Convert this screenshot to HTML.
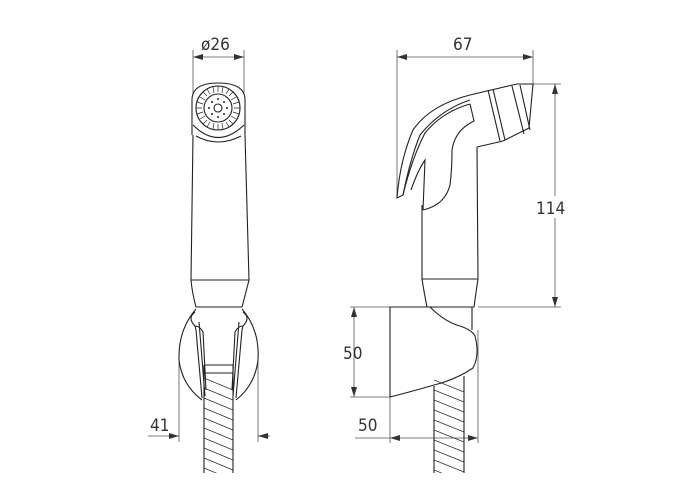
<!DOCTYPE html>
<html><head><meta charset="utf-8"><style>
html,body{margin:0;padding:0;background:#fff;}
svg{display:block;}
text{font-family:"Liberation Sans Narrow","DejaVu Sans Condensed","Liberation Sans",sans-serif;font-size:17px;fill:#333;}
</style></head><body>
<svg width="700" height="500" viewBox="0 0 700 500" xmlns="http://www.w3.org/2000/svg">
<defs>
<marker id="a" markerWidth="10" markerHeight="6" refX="10" refY="3" orient="auto-start-reverse" markerUnits="userSpaceOnUse"><path d="M0,0 L10,3 L0,6 z" fill="#333"/></marker>
<clipPath id="h1"><rect x="204" y="373" width="29" height="100"/></clipPath>
<clipPath id="h2"><rect x="434" y="370" width="30" height="103"/></clipPath>
</defs>
<g stroke="#555" stroke-width="0.8" fill="none">
<line x1="193" y1="50" x2="193" y2="95"/><line x1="244" y1="50" x2="244" y2="95"/>
<line x1="193" y1="57" x2="244" y2="57" marker-start="url(#a)" marker-end="url(#a)"/>
<line x1="179" y1="355" x2="179" y2="442"/><line x1="258" y1="355" x2="258" y2="442"/>
<line x1="148" y1="436" x2="179" y2="436"/>
<line x1="168" y1="436" x2="179" y2="436" marker-end="url(#a)"/>
<line x1="258" y1="436" x2="270" y2="436"/>
<line x1="268" y1="436" x2="258" y2="436" marker-end="url(#a)"/>
<line x1="397" y1="50" x2="397" y2="198"/><line x1="533" y1="50" x2="533" y2="86"/>
<line x1="397" y1="57" x2="533" y2="57" marker-start="url(#a)" marker-end="url(#a)"/>
<line x1="533" y1="84" x2="561" y2="84"/><line x1="478" y1="307" x2="561" y2="307"/>
<line x1="555" y1="84" x2="555" y2="307" marker-start="url(#a)" marker-end="url(#a)"/>
<line x1="350" y1="307" x2="390" y2="307"/><line x1="350" y1="397" x2="390" y2="397"/>
<line x1="354" y1="307" x2="354" y2="397" marker-start="url(#a)" marker-end="url(#a)"/>
<line x1="390" y1="397" x2="390" y2="443"/><line x1="478" y1="330" x2="478" y2="443"/>
<line x1="355" y1="438" x2="390" y2="438"/>
<line x1="390" y1="438" x2="478" y2="438" marker-start="url(#a)" marker-end="url(#a)"/>
</g>
<text x="201" y="50">ø26</text>
<text x="150" y="431">41</text>
<text x="453" y="50">67</text>
<rect x="536" y="196" width="36" height="22" fill="#fff"/>
<text x="536" y="214">114</text>
<text x="343" y="359">50</text>
<text x="358" y="431">50</text>

<g stroke="#222" stroke-width="1.1" fill="none">
<path d="M192,135 L192,100 Q192,83 218,83 Q245,83 245,100 L245,135"/>
<path d="M193,125 Q218,150 244,125"/>
<path d="M196,136 Q218,148 241,136"/>
<circle cx="218" cy="108" r="22"/>
<circle cx="218" cy="108" r="14"/>
<circle cx="218" cy="108" r="4"/>
<g stroke-width="0.7">
<path d="M218,86v6M229,89l-3,5M236,97l-5,3M240,108h-6M236,119l-5,-3M229,127l-3,-5M218,130v-6M207,127l3,-5M200,119l5,-3M196,108h6M200,97l5,3M207,89l3,5"/>
<path d="M223,87l-1,6M233,92l-4,4M239,102l-6,2M239,114l-6,-2M233,124l-4,-4M223,129l-1,-6M213,129l1,-6M203,124l4,-4M197,114l6,-2M197,102l6,2M203,92l4,4M213,87l1,6"/>
</g>
<g fill="#222" stroke="none">
<circle cx="218" cy="99" r="1"/><circle cx="218" cy="117" r="1"/><circle cx="209" cy="108" r="1"/><circle cx="227" cy="108" r="1"/>
<circle cx="212" cy="102" r="1"/><circle cx="224" cy="102" r="1"/><circle cx="212" cy="114" r="1"/><circle cx="224" cy="114" r="1"/>
</g>
<path d="M193,135 L191,280 L249,280 L245,135"/>
<path d="M191,280 Q192,292 196,307 L242,307 Q246,292 249,280"/>
<path d="M196,309 Q178,330 179,360 Q182,385 202,400"/>
<path d="M242,309 Q260,330 258,360 Q255,385 236,400"/>
<path d="M195,312 Q187,318 195,326 L196,330 L202,398 M199,322 L205,396 M195,326 Q200,326 203,332 L206,390"/>
<path d="M243,312 Q251,318 243,326 L242,330 L236,398 M239,322 L233,396 M243,326 Q238,326 235,332 L232,390"/>
<path d="M204,365 L204,473 M233,365 L233,473"/>
<line x1="204" y1="365" x2="233" y2="365"/><line x1="204" y1="373" x2="233" y2="373"/>
<g clip-path="url(#h1)" stroke-width="0.7">
<path d="M204,378 l29,12 M204,388 l29,12 M204,398 l29,12 M204,408 l29,12 M204,418 l29,12 M204,428 l29,12 M204,438 l29,12 M204,448 l29,12 M204,458 l29,12 M204,468 l29,12"/>
</g>

<path d="M470,95 L517,84 L533,84 L529,128 L503,141 L477,147"/>
<path d="M488,90 L500,141 M493,89 L505,140 M512,86 L524,134 M520,85 L530,130"/>
<path d="M470,95 Q430,105 413,130 Q400,160 397,198 L403,195 Q410,160 420,135 Q440,110 470,100"/>
<path d="M403,195 Q412,158 425,133 Q442,112 470,104"/>
<path d="M470,104 L474,121 Q455,130 452,150 Q452,170 450,185 Q445,205 423,210"/>
<path d="M411,190 Q418,170 425,160 L423,210"/>
<path d="M477,147 L478,279 L422,279 L422,205"/>
<path d="M422,279 Q424,292 427,307 L474,307 Q476,292 478,279"/>
<path d="M390,307 L430,307 Q445,322 460,326 Q472,330 475,336 Q480,355 473,368 Q455,380 434,385 Q410,392 390,397 Z"/>
<path d="M434,386 L434,473 M464,376 L464,473 M472,307 L472,330"/>
<g clip-path="url(#h2)" stroke-width="0.7">
<path d="M434,380 l30,12 M434,390 l30,12 M434,400 l30,12 M434,410 l30,12 M434,420 l30,12 M434,430 l30,12 M434,440 l30,12 M434,450 l30,12 M434,460 l30,12 M434,470 l30,12"/>
</g>
</g>
</svg>
</body></html>
